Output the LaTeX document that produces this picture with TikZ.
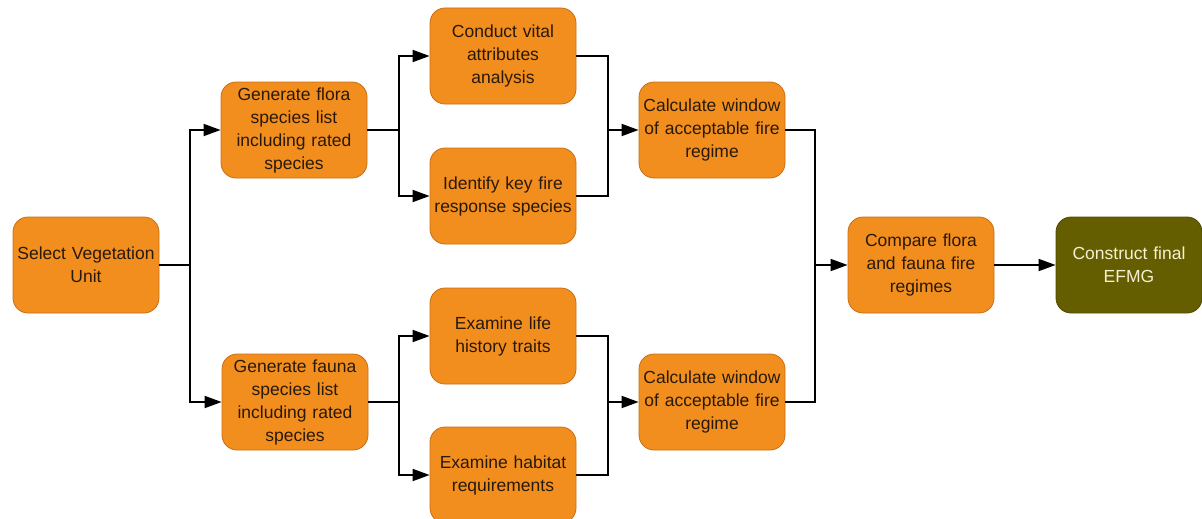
\documentclass[tikz,border=0pt]{standalone}
\usepackage{fontspec}
\setmainfont{Liberation Sans}
\usetikzlibrary{arrows.meta}
\definecolor{boxorange}{RGB}{242,142,30}
\definecolor{boxedge}{RGB}{200,110,20}
\definecolor{olivebox}{RGB}{100,94,0}
\definecolor{olivetext}{RGB}{245,240,210}
\definecolor{txt}{RGB}{40,25,10}
\tikzset{
  stepbox/.style={draw=boxedge, line width=0.8pt, fill=boxorange, rounded corners=15pt,
    minimum width=146pt, minimum height=96pt, inner sep=2pt, align=center, text width=140pt,
    font=\fontsize{17.5}{23}\selectfont, text=txt},
  finalbox/.style={stepbox, draw=olivebox!80!black, fill=olivebox, text=olivetext},
  conn/.style={line width=1.8pt, black},
  arr/.style={conn, -{Triangle[length=17pt,width=12pt]}}
}
\begin{document}
\begin{tikzpicture}[x=1pt,y=-1pt]
\useasboundingbox (0,0) rectangle (1202,519);
\begin{scope}
\clip (0,0) rectangle (1202,519);
\node[stepbox] (sel) at (86,265) {Select Vegetation\\Unit};
\node[stepbox] (flora) at (294,130) {Generate flora\\species list\\including rated\\species};
\node[stepbox] (fauna) at (295,402) {Generate fauna\\species list\\including rated\\species};
\node[stepbox] (vital) at (503,56) {Conduct vital\\attributes\\analysis};
\node[stepbox] (ident) at (503,196) {Identify key fire\\response species};
\node[stepbox] (life) at (503,336) {Examine life\\history traits};
\node[stepbox] (habit) at (503,475) {Examine habitat\\requirements};
\node[stepbox] (calcA) at (712,130) {Calculate window\\of acceptable fire\\regime};
\node[stepbox] (calcB) at (712,402) {Calculate window\\of acceptable fire\\regime};
\node[stepbox] (comp) at (921,265) {Compare flora\\and fauna fire\\regimes};
\node[finalbox] (final) at (1129,265) {Construct final\\EFMG};

\coordinate (j1) at (190,265);
\coordinate (j2) at (399,130);
\coordinate (j3) at (608,130);
\coordinate (j4) at (399,402);
\coordinate (j5) at (608,402);
\coordinate (j6) at (815,265);

\draw[conn] (sel.east) -- (j1);
\draw[arr] (j1) |- (flora.west);
\draw[arr] (j1) |- (fauna.west);

\draw[conn] (flora.east) -- (j2);
\draw[arr] (j2) |- (vital.west);
\draw[arr] (j2) |- (ident.west);
\draw[conn] (vital.east) -| (j3);
\draw[conn] (ident.east) -| (j3);
\draw[arr] (j3) -- (calcA.west);

\draw[conn] (fauna.east) -- (j4);
\draw[arr] (j4) |- (life.west);
\draw[arr] (j4) |- (habit.west);
\draw[conn] (life.east) -| (j5);
\draw[conn] (habit.east) -| (j5);
\draw[arr] (j5) -- (calcB.west);

\draw[conn] (calcA.east) -| (j6);
\draw[conn] (calcB.east) -| (j6);
\draw[arr] (j6) -- (comp.west);
\draw[arr] (comp.east) -- (final.west);
\end{scope}
\end{tikzpicture}
\end{document}
